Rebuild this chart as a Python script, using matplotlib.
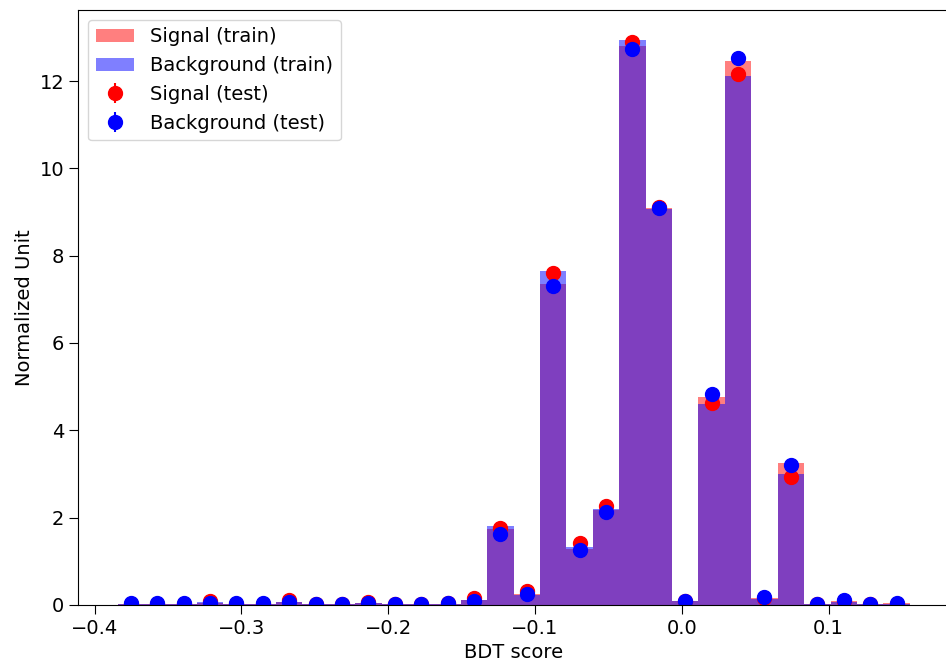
import numpy as np
import matplotlib
matplotlib.use("Agg")
import matplotlib.pyplot as plt

# BDT score histogram: 30 bins
bin_lo = -0.3843
bin_hi = 0.1552
n_bins = 30

sig_train = [0.02, 0.02, 0.03, 0.05, 0.03, 0.03, 0.07, 0.03, 0.03, 0.05,
             0.01, 0.01, 0.03, 0.12, 1.74, 0.25, 7.34, 1.28, 2.17, 12.80,
             9.10, 0.10, 4.76, 12.47, 0.16, 3.25, 0.03, 0.08, 0.02, 0.04]
bkg_train = [0.02, 0.02, 0.03, 0.06, 0.03, 0.03, 0.07, 0.03, 0.03, 0.05,
             0.01, 0.01, 0.03, 0.11, 1.80, 0.22, 7.64, 1.32, 2.20, 12.95,
             9.08, 0.08, 4.60, 12.12, 0.14, 3.00, 0.02, 0.07, 0.02, 0.03]
sig_test = [0.02, 0.03, 0.03, 0.08, 0.03, 0.03, 0.11, 0.03, 0.03, 0.06,
            0.01, 0.01, 0.04, 0.15, 1.77, 0.32, 7.60, 1.42, 2.26, 12.90,
            9.12, 0.08, 4.63, 12.16, 0.15, 2.93, 0.02, 0.08, 0.01, 0.03]
bkg_test = [0.04, 0.04, 0.04, 0.04, 0.04, 0.04, 0.07, 0.03, 0.03, 0.04,
            0.01, 0.01, 0.04, 0.10, 1.62, 0.25, 7.30, 1.26, 2.12, 12.73,
            9.10, 0.09, 4.83, 12.53, 0.18, 3.20, 0.03, 0.12, 0.02, 0.05]
# small statistical errors on the test points
sig_err = [0.005] * 14 + [0.03, 0.01, 0.06, 0.03, 0.03, 0.08, 0.07, 0.01, 0.05, 0.08, 0.01, 0.04, 0.005, 0.01, 0.005, 0.005]
bkg_err = [0.005] * 14 + [0.03, 0.01, 0.06, 0.03, 0.03, 0.08, 0.07, 0.01, 0.05, 0.08, 0.01, 0.04, 0.005, 0.01, 0.005, 0.005]

edges = np.linspace(bin_lo, bin_hi, n_bins + 1)
centers = (edges[:-1] + edges[1:]) / 2

plt.rcParams['font.size'] = 14

fig = plt.figure(figsize=(9.46, 6.64), dpi=100)
ax = fig.add_axes([0.0825, 0.089, 0.921, 0.896])

ax.hist(centers, bins=edges, weights=sig_train, color='red', alpha=0.5, label='Signal (train)')
ax.hist(centers, bins=edges, weights=bkg_train, color='blue', alpha=0.5, label='Background (train)')
ax.errorbar(centers, sig_test, yerr=sig_err, fmt='o', color='red', markersize=10, label='Signal (test)')
ax.errorbar(centers, bkg_test, yerr=bkg_err, fmt='o', color='blue', markersize=10, label='Background (test)')

ax.set_ylim(bottom=0)
ax.set_xlabel('BDT score')
ax.set_ylabel('Normalized Unit')
ax.tick_params(length=6.5)
ax.legend(loc='upper left')

fig.savefig('out.png', dpi=100)
